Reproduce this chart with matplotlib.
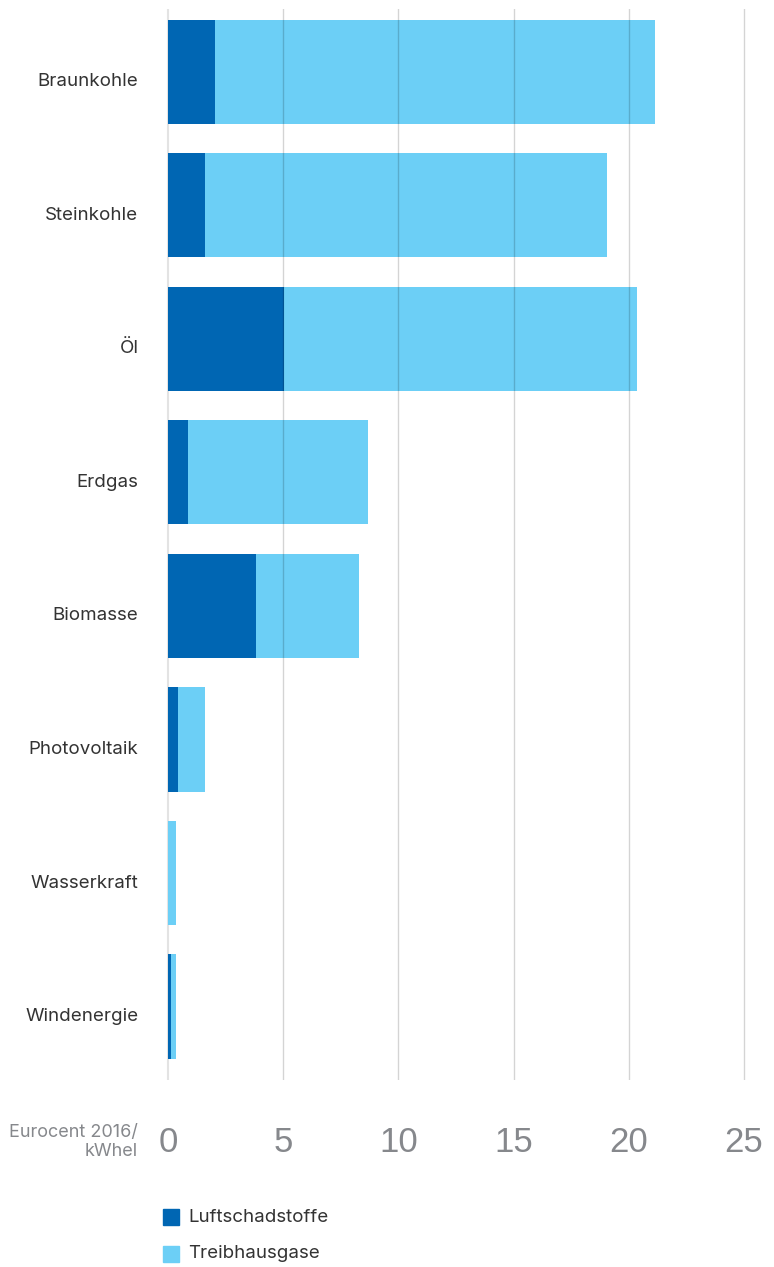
import matplotlib.pyplot as plt
import matplotlib.transforms as mtransforms
import numpy as np

categories = ["Braunkohle", "Steinkohle", "Öl", "Erdgas", "Biomasse",
              "Photovoltaik", "Wasserkraft", "Windenergie"]
luftschadstoffe = [2.05, 1.6, 5.03, 0.87, 3.82, 0.43, 0.02, 0.12]
gesamt = [21.15, 19.05, 20.35, 8.68, 8.29, 1.6, 0.35, 0.35]
treibhausgase = [g - l for g, l in zip(gesamt, luftschadstoffe)]
xticks = [0, 5, 10, 15, 20, 25]

dark = "#0066b3"
light = "#6ccff6"

W, H = 774, 1267
fig = plt.figure(figsize=(W / 100, H / 100), dpi=100)
px = 23.04  # pixels per unit
x0 = -0.2
left = (168 + x0 * px) / W
width = (W - (168 + x0 * px)) / W
ax = fig.add_axes([left, 1 - 1080 / H, width, (1080 - 9) / H])

y = np.arange(len(categories))
ax.barh(y, luftschadstoffe, height=0.78, color=dark, zorder=2, label="Luftschadstoffe")
ax.barh(y, treibhausgase, left=luftschadstoffe, height=0.78,
        color=light, zorder=2, label="Treibhausgase")

ax.set_xlim(x0, (W - 168) / px)
ax.set_ylim(7.55, -0.47)

ax.axvline(0, color="#e3e3e3", lw=1.5, zorder=1)
for t in xticks[1:]:
    ax.axvline(t, color="black", alpha=0.17, lw=1, zorder=3)

for s in ax.spines.values():
    s.set_visible(False)

ax.set_xticks(xticks)
ax.set_xticklabels([str(t) for t in xticks], fontsize=25, color="#86888c",
                   family="Liberation Sans")
ax.tick_params(axis="x", length=0, pad=33)
ax.set_yticks(y)
ax.set_yticklabels(categories, fontsize=13.5, color="#333333", family="Inter")
ax.tick_params(axis="y", length=0, pad=18)
shift = mtransforms.ScaledTranslation(0, -8 / 100, fig.dpi_scale_trans)
for lab in ax.get_yticklabels():
    lab.set_transform(lab.get_transform() + shift)

fig.text(138 / W, 1 - 1142 / H, "Eurocent 2016/\nkWhel", ha="right", va="center",
         fontsize=13, color="#86888c", family="Inter", linespacing=1.1)

# legend
for yy, col, lab in [(1217, dark, "Luftschadstoffe"), (1254, light, "Treibhausgase")]:
    fig.patches.append(plt.Rectangle((163 / W, 1 - (yy + 8) / H), 16 / W, 16 / H,
                                     transform=fig.transFigure, color=col, figure=fig))
    fig.text(188 / W, 1 - yy / H, lab, ha="left", va="center", fontsize=13.5,
             color="#333333", family="Inter")

fig.savefig("out.png", dpi=100)
